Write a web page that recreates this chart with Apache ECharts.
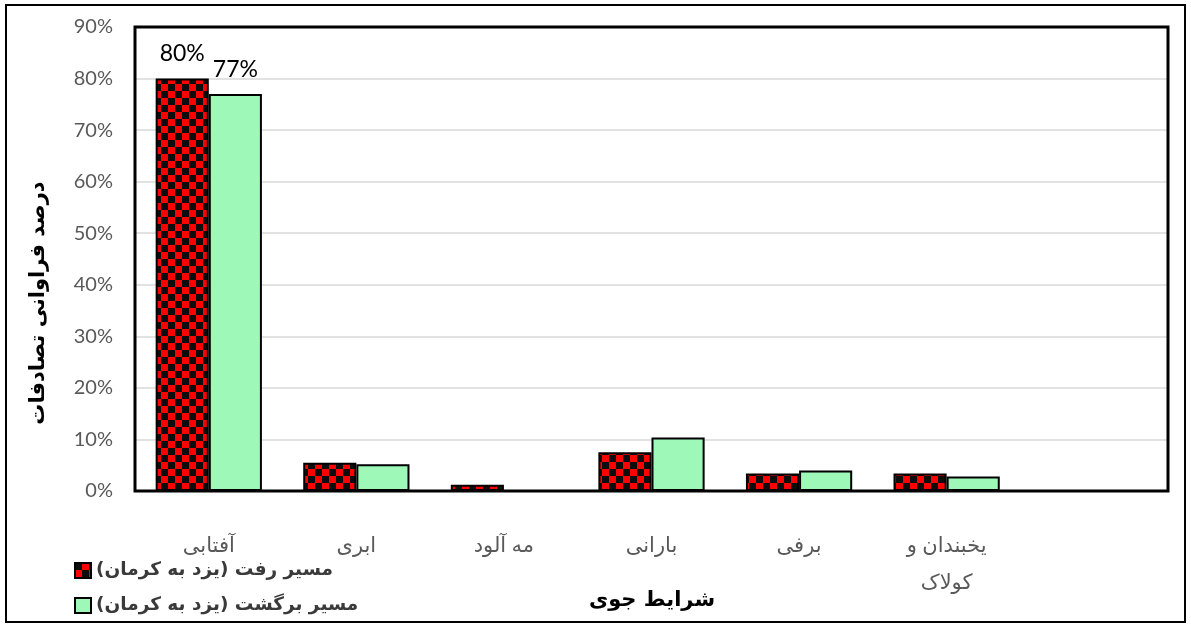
<!DOCTYPE html>
<html>
<head>
<meta charset="utf-8">
<script src="https://cdn.jsdelivr.net/npm/echarts@6/dist/echarts.min.js"></script>
<style>
  html, body { margin: 0; padding: 0; background: #ffffff; }
  #chart { width: 1191px; height: 625px; }
  /* Persian strings need a right-to-left base direction on the canvas */
  #chart canvas { direction: rtl; }
</style>
</head>
<body>
<div id="chart"></div>
<script>
// Weather conditions (the last slot is an empty category)
const categories = ['آفتابی', 'ابری', 'مه آلود', 'بارانی', 'برفی', 'یخبندان و\nکولاک', ''];
const seriesNames = ['مسیر رفت (یزد به کرمان)', 'مسیر برگشت (یزد به کرمان)'];
// Share of accidents, percent
const outbound = [80, 5.5, 1.2, 7.5, 3.4, 3.4, null];
const inbound = [77, 5.2, 0, 10.4, 4.0, 2.8, null];
// Only these categories carry value labels
const labelledIndex = [0];
const yMin = 0, yMax = 90, yStep = 10;
const xTitle = 'شرایط جوی';
const yTitle = 'درصد فراوانی تصادفات';

const FONT = 'Lato, "DejaVu Sans", sans-serif';
const PERSIAN = '"DejaVu Sans", sans-serif';

// plot frame, in pixels from the chart edges
const GRID = { left: 135, right: 23, top: 27, bottom: 134 };
const W = 1191, H = 625;

// red/black checkerboard fill
function checker(size) {
  const c = document.createElement('canvas');
  c.width = c.height = size * 2;
  const g = c.getContext('2d');
  g.fillStyle = '#ff0000';
  g.fillRect(0, 0, size * 2, size * 2);
  g.fillStyle = '#0d0d0d';
  g.fillRect(0, 0, size, size);
  g.fillRect(size, size, size, size);
  return c;
}

function withLabels(values) {
  return values.map((v, i) => labelledIndex.includes(i)
    ? { value: v, label: { show: true } }
    : v);
}

const labelStyle = {
  show: false,
  position: 'top',
  distance: 13,
  formatter: '{c}%',
  color: '#000000',
  fontFamily: FONT,
  fontSize: 23
};

const chart = echarts.init(document.getElementById('chart'), null, { renderer: 'canvas' });

chart.setOption({
  animation: false,
  backgroundColor: '#ffffff',
  grid: Object.assign({ show: false }, GRID),
  legend: {
    orient: 'vertical',
    left: 69, top: 555,
    itemWidth: 16, itemHeight: 15, itemGap: 14,
    icon: 'rect',
    data: seriesNames,
    textStyle: { fontFamily: PERSIAN, fontSize: 18.5, fontWeight: 'bold', color: '#3a3a3a', lineHeight: 21 }
  },
  xAxis: {
    type: 'category',
    data: categories,
    axisTick: { show: false },
    axisLine: { show: false },
    axisLabel: { color: '#595959', fontFamily: FONT, fontSize: 21, margin: 36, lineHeight: 37, interval: 0 }
  },
  yAxis: {
    type: 'value',
    min: yMin, max: yMax, interval: yStep,
    axisLine: { show: false },
    axisTick: { show: false },
    axisLabel: { color: '#595959', fontFamily: FONT, fontSize: 20, margin: 22, formatter: '{value}%' },
    splitLine: { lineStyle: { color: '#d9d9d9', width: 1.5 } }
  },
  series: [
    {
      name: seriesNames[0],
      type: 'bar',
      data: withLabels(outbound),
      barWidth: '36%',
      barGap: '0%',
      itemStyle: { color: { image: checker(7), repeat: 'repeat' }, borderColor: '#000000', borderWidth: 2 },
      label: labelStyle
    },
    {
      name: seriesNames[1],
      type: 'bar',
      data: withLabels(inbound),
      barWidth: '36%',
      barGap: '0%',
      itemStyle: { color: '#9ef9b9', borderColor: '#000000', borderWidth: 2 },
      label: labelStyle
    }
  ],
  graphic: [
    {
      type: 'rect',
      silent: true,
      z: -1,
      shape: { x: 6, y: 5, width: 1179, height: 617 },
      style: { fill: 'none', stroke: '#000000', lineWidth: 2 }
    },
    {
      // plot frame drawn above the grid lines
      type: 'rect',
      silent: true,
      z: 50,
      shape: { x: GRID.left, y: GRID.top, width: W - GRID.left - GRID.right, height: H - GRID.top - GRID.bottom },
      style: { fill: 'none', stroke: '#000000', lineWidth: 3 }
    },
    {
      type: 'text',
      x: 39, y: 303,
      rotation: Math.PI / 2,
      style: { text: yTitle, fill: '#000000', font: 'bold 21px ' + PERSIAN, align: 'center', verticalAlign: 'middle' }
    },
    {
      type: 'text',
      x: 652, y: 601,
      style: { text: xTitle, fill: '#000000', font: 'bold 21px ' + PERSIAN, align: 'center', verticalAlign: 'middle' }
    }
  ]
});
</script>
</body>
</html>
